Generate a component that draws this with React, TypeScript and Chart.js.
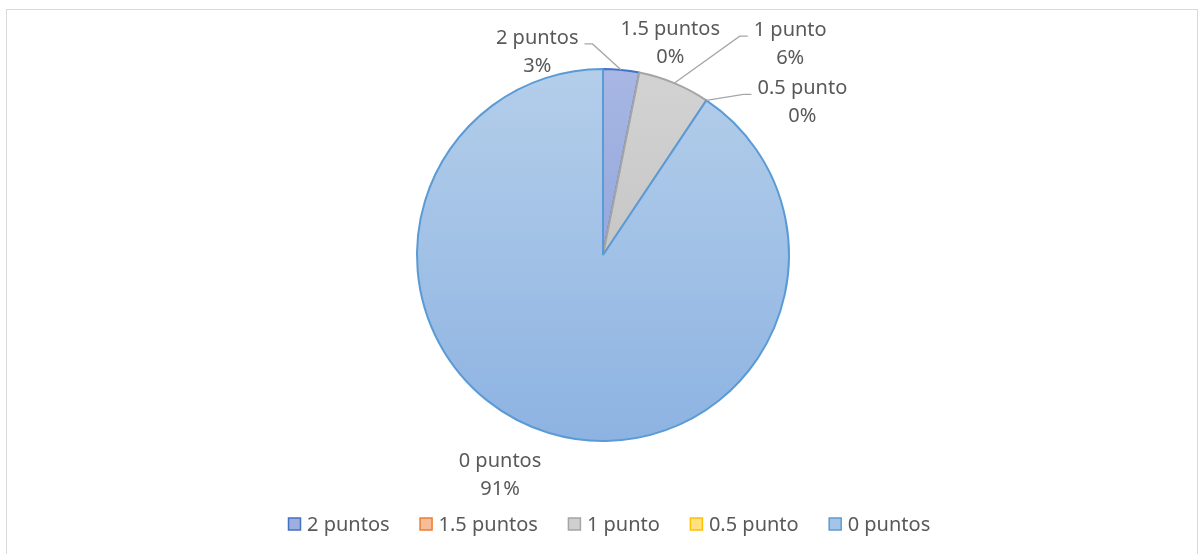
import React, { useEffect, useRef } from "react";
import { Chart, registerables } from "chart.js";
Chart.register(...registerables);

const categories = ["2 puntos", "1.5 puntos", "1 punto", "0.5 punto", "0 puntos"];
const counts = [1, 0, 2, 0, 29];
const percentLabels = counts.map(
  (v) => Math.round((v / counts.reduce((a, b) => a + b, 0)) * 100) + "%"
);

const borderColors = ["#4472C4", "#ED7D31", "#A5A5A5", "#FFC000", "#5B9BD5"];
const fillTop = ["#A8B7E3", "#F8CBAD", "#D3D3D3", "#FFE699", "#B4CEEA"];
const fillBottom = ["#8098D6", "#F4B183", "#BABABA", "#FFD966", "#8DB3E2"];
const legendFill = ["#9DAEDF", "#F6BE98", "#CFCFCF", "#FFE083", "#A6C4E7"];

const FONT = '"Noto Sans", sans-serif';
const TEXT_COLOR = "#595959";

const labelOffsets = [
  { dx: -84, dy: -18, line: true },
  { dx: 31, dy: -29, line: false },
  { dx: 116, dy: -39, line: true },
  { dx: 96, dy: 2, line: true },
  { dx: -49, dy: 42, line: false },
];

const framePlugin = {
  id: "frame",
  beforeDraw(chart: any) {
    const ctx = chart.ctx;
    ctx.save();
    ctx.fillStyle = "#ffffff";
    ctx.fillRect(0, 0, chart.width, chart.height);
    ctx.strokeStyle = "#d9d9d9";
    ctx.lineWidth = 1;
    ctx.strokeRect(6.5, 9.5, 1191, 620);
    ctx.restore();
  },
};

const pieLabelPlugin = {
  id: "pieLabels",
  afterDatasetsDraw(chart: any) {
    const meta = chart.getDatasetMeta(0);
    const ctx = chart.ctx;
    ctx.save();
    ctx.font = `20px ${FONT}`;
    ctx.fillStyle = TEXT_COLOR;
    ctx.textAlign = "center";
    ctx.textBaseline = "middle";
    const lh = 28;
    meta.data.forEach((arc: any, i: number) => {
      const { x, y, startAngle, endAngle, outerRadius } = arc.getProps(
        ["x", "y", "startAngle", "endAngle", "outerRadius"],
        true
      );
      const mid = (startAngle + endAngle) / 2;
      const ex = x + Math.cos(mid) * outerRadius;
      const ey = y + Math.sin(mid) * outerRadius;
      const off = labelOffsets[i];
      const lx = ex + off.dx;
      const ly = ey + off.dy;
      ctx.fillText(categories[i], lx, ly - lh / 2);
      ctx.fillText(percentLabels[i], lx, ly + lh / 2);
      if (off.line) {
        const w = Math.max(
          ctx.measureText(categories[i]).width,
          ctx.measureText(percentLabels[i]).width
        );
        const side = off.dx < 0 ? 1 : -1;
        const endX = lx + side * (w / 2 + 6);
        const lineY = ly - 8;
        const elbowX = endX + side * 8;
        ctx.beginPath();
        ctx.strokeStyle = "#A6A6A6";
        ctx.lineWidth = 1.3;
        ctx.moveTo(ex, ey);
        ctx.lineTo(elbowX, lineY);
        ctx.lineTo(endX, lineY);
        ctx.stroke();
      }
    });
    ctx.restore();
  },
};

const legendPlugin = {
  id: "customLegend",
  afterDraw(chart: any) {
    const ctx = chart.ctx;
    ctx.save();
    ctx.font = `20px ${FONT}`;
    ctx.textBaseline = "middle";
    ctx.textAlign = "left";
    const box = 13;
    const gapText = 6;
    const gapItem = 30;
    const widths = categories.map((c) => ctx.measureText(c).width);
    const total =
      widths.reduce((a, w) => a + box + gapText + w, 0) + gapItem * (categories.length - 1);
    let x = Math.round(609 - total / 2);
    const y = 524;
    categories.forEach((c, i) => {
      ctx.fillStyle = legendFill[i];
      ctx.fillRect(x + 0.5, y - box / 2 + 0.5, box - 1, box - 1);
      ctx.strokeStyle = borderColors[i];
      ctx.lineWidth = 1.5;
      ctx.strokeRect(x + 0.5, y - box / 2 + 0.5, box - 1, box - 1);
      ctx.fillStyle = TEXT_COLOR;
      ctx.fillText(c, x + box + gapText, y + 1);
      x += box + gapText + widths[i] + gapItem;
    });
    ctx.restore();
  },
};

function sliceFill(context: any) {
  const i = context.dataIndex ?? 0;
  const chart = context.chart;
  const ca = chart.chartArea;
  if (!ca) return fillTop[i];
  const g = chart.ctx.createLinearGradient(0, ca.top, 0, ca.bottom);
  g.addColorStop(0, fillTop[i]);
  g.addColorStop(1, fillBottom[i]);
  return g;
}

export default function App() {
  const ref = useRef<HTMLCanvasElement | null>(null);
  useEffect(() => {
    if (!ref.current) return;
    const chart = new Chart(ref.current, {
      type: "pie",
      data: {
        labels: categories,
        datasets: [
          {
            data: counts,
            backgroundColor: sliceFill as any,
            borderColor: borderColors,
            borderWidth: 2,
            hoverOffset: 0,
            offset: 0,
          },
        ],
      },
      options: {
        responsive: false,
        animation: false,
        devicePixelRatio: 1,
        events: [],
        layout: { padding: { top: 68, bottom: 112, left: 106, right: 99 } },
        plugins: {
          legend: { display: false },
          tooltip: { enabled: false },
        },
      },
      plugins: [framePlugin, pieLabelPlugin, legendPlugin],
    });
    return () => chart.destroy();
  }, []);
  return (
    <div style={{ position: "fixed", left: 0, top: 0, width: 1199, height: 554, background: "#fff" }}>
      <canvas ref={ref} width={1199} height={554} style={{ display: "block" }} />
    </div>
  );
}
